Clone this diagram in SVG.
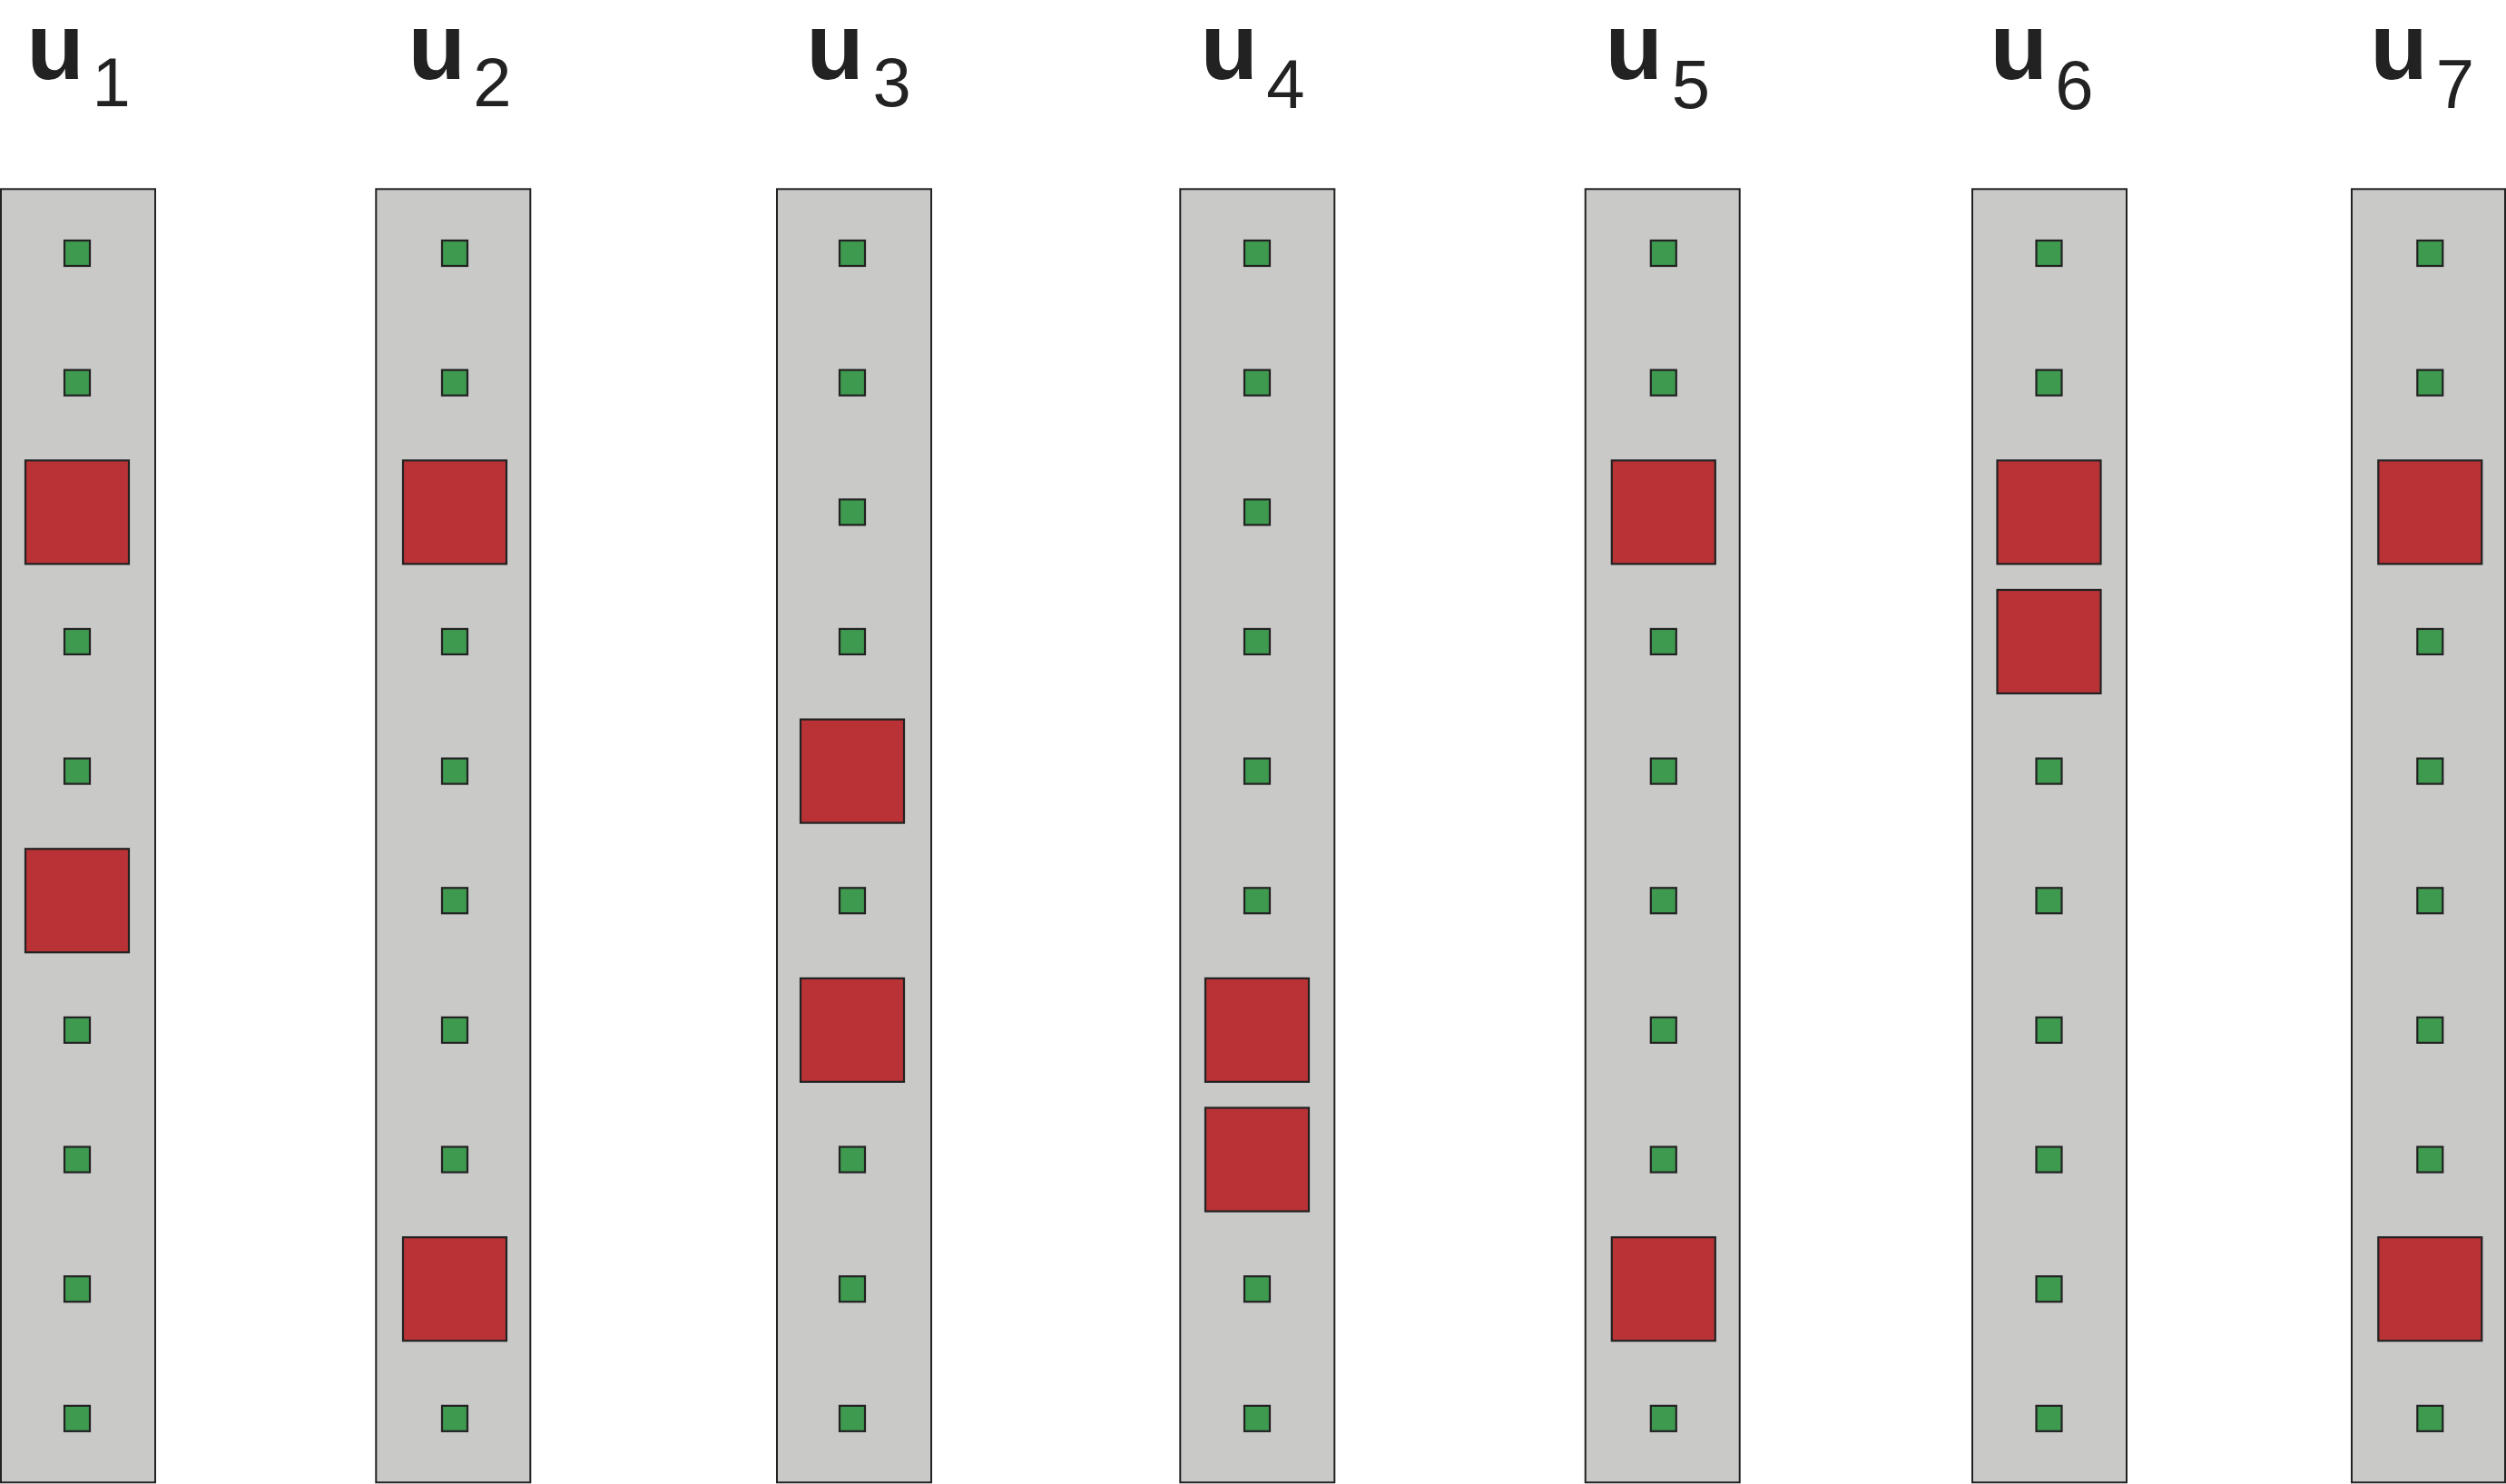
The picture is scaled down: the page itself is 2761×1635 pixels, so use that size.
<svg xmlns="http://www.w3.org/2000/svg" width="2761" height="1635" viewBox="0 0 2761 1635">
<defs>
<style>
.col{fill:#c9c9c8;stroke:#222;stroke-width:2}
.g{fill:#3e9a4f;stroke:#222;stroke-width:2.2}
.r{fill:#b93236;stroke:#222;stroke-width:2.2}
.u{font-family:"Liberation Sans",Arial,sans-serif;font-weight:bold;font-size:104px;fill:#222;text-anchor:middle}
.d{font-family:"Liberation Sans",Arial,sans-serif;font-size:76px;fill:#222;text-anchor:middle}
</style>
<rect id="gs" x="-14" y="-14" width="28" height="28" class="g"/>
<rect id="rs" x="-57" y="-57" width="114" height="114" class="r"/>
</defs>
<rect width="2761" height="1635" fill="#fff"/>
<g id="labels">
<text class="u" x="61" y="87">u</text><text class="d" x="122.6" y="116.7">1</text>
<text class="u" x="481.3" y="87">u</text><text class="d" x="542.5" y="116.7">2</text>
<text class="u" x="920" y="87">u</text><text class="d" x="982.7" y="116.7">3</text>
<text class="u" x="1354.2" y="87">u</text><text class="d" x="1416.3" y="119.3">4</text>
<text class="u" x="1800.2" y="87">u</text><text class="d" x="1862.8" y="119.3">5</text>
<text class="u" x="2224.2" y="87">u</text><text class="d" x="2285.5" y="119.8">6</text>
<text class="u" x="2643" y="87">u</text><text class="d" x="2704.8" y="119.3">7</text>
</g>
<g id="u1">
<rect class="col" x="1" y="208.3" width="170" height="1425"/>
<use href="#gs" x="85" y="279"/><use href="#gs" x="85" y="421.65"/><use href="#rs" x="85" y="564.3"/><use href="#gs" x="85" y="706.95"/><use href="#gs" x="85" y="849.6"/><use href="#rs" x="85" y="992.25"/><use href="#gs" x="85" y="1134.9"/><use href="#gs" x="85" y="1277.55"/><use href="#gs" x="85" y="1420.2"/><use href="#gs" x="85" y="1562.85"/>
</g>
<g id="u2">
<rect class="col" x="414.3" y="208.3" width="170" height="1425"/>
<use href="#gs" x="501" y="279"/><use href="#gs" x="501" y="421.65"/><use href="#rs" x="501" y="564.3"/><use href="#gs" x="501" y="706.95"/><use href="#gs" x="501" y="849.6"/><use href="#gs" x="501" y="992.25"/><use href="#gs" x="501" y="1134.9"/><use href="#gs" x="501" y="1277.55"/><use href="#rs" x="501" y="1420.2"/><use href="#gs" x="501" y="1562.85"/>
</g>
<g id="u3">
<rect class="col" x="856" y="208.3" width="170" height="1425"/>
<use href="#gs" x="939" y="279"/><use href="#gs" x="939" y="421.65"/><use href="#gs" x="939" y="564.3"/><use href="#gs" x="939" y="706.95"/><use href="#rs" x="939" y="849.6"/><use href="#gs" x="939" y="992.25"/><use href="#rs" x="939" y="1134.9"/><use href="#gs" x="939" y="1277.55"/><use href="#gs" x="939" y="1420.2"/><use href="#gs" x="939" y="1562.85"/>
</g>
<g id="u4">
<rect class="col" x="1300.3" y="208.3" width="170" height="1425"/>
<use href="#gs" x="1385" y="279"/><use href="#gs" x="1385" y="421.65"/><use href="#gs" x="1385" y="564.3"/><use href="#gs" x="1385" y="706.95"/><use href="#gs" x="1385" y="849.6"/><use href="#gs" x="1385" y="992.25"/><use href="#rs" x="1385" y="1134.9"/><use href="#rs" x="1385" y="1277.55"/><use href="#gs" x="1385" y="1420.2"/><use href="#gs" x="1385" y="1562.85"/>
</g>
<g id="u5">
<rect class="col" x="1746.7" y="208.3" width="170" height="1425"/>
<use href="#gs" x="1832.8" y="279"/><use href="#gs" x="1832.8" y="421.65"/><use href="#rs" x="1832.8" y="564.3"/><use href="#gs" x="1832.8" y="706.95"/><use href="#gs" x="1832.8" y="849.6"/><use href="#gs" x="1832.8" y="992.25"/><use href="#gs" x="1832.8" y="1134.9"/><use href="#gs" x="1832.8" y="1277.55"/><use href="#rs" x="1832.8" y="1420.2"/><use href="#gs" x="1832.8" y="1562.85"/>
</g>
<g id="u6">
<rect class="col" x="2173" y="208.3" width="170" height="1425"/>
<use href="#gs" x="2257.5" y="279"/><use href="#gs" x="2257.5" y="421.65"/><use href="#rs" x="2257.5" y="564.3"/><use href="#rs" x="2257.5" y="706.95"/><use href="#gs" x="2257.5" y="849.6"/><use href="#gs" x="2257.5" y="992.25"/><use href="#gs" x="2257.5" y="1134.9"/><use href="#gs" x="2257.5" y="1277.55"/><use href="#gs" x="2257.5" y="1420.2"/><use href="#gs" x="2257.5" y="1562.85"/>
</g>
<g id="u7">
<rect class="col" x="2591" y="208.3" width="169" height="1425"/>
<use href="#gs" x="2677.3" y="279"/><use href="#gs" x="2677.3" y="421.65"/><use href="#rs" x="2677.3" y="564.3"/><use href="#gs" x="2677.3" y="706.95"/><use href="#gs" x="2677.3" y="849.6"/><use href="#gs" x="2677.3" y="992.25"/><use href="#gs" x="2677.3" y="1134.9"/><use href="#gs" x="2677.3" y="1277.55"/><use href="#rs" x="2677.3" y="1420.2"/><use href="#gs" x="2677.3" y="1562.85"/>
</g>
<g id="connectors"/>
</svg>
